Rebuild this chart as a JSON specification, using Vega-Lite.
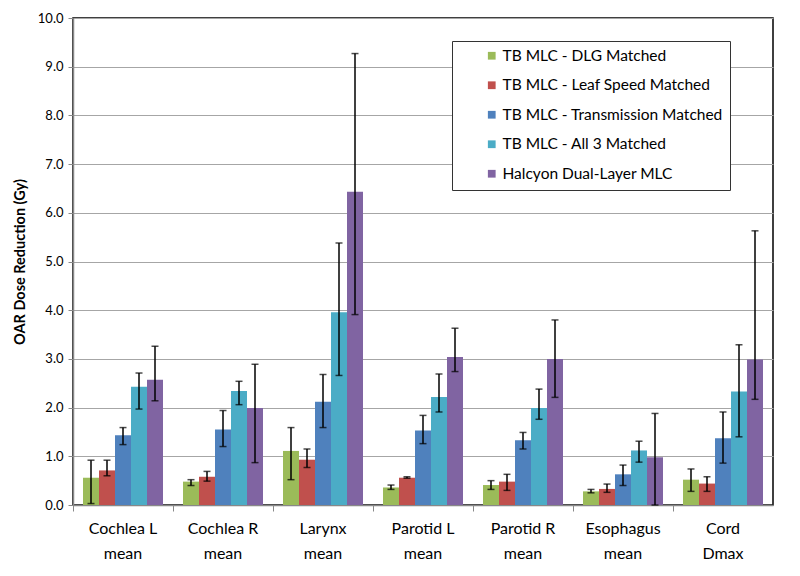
{
  "$schema": "https://vega.github.io/schema/vega-lite/v6.json",
  "width": 700,
  "height": 487,
  "autosize": {"type": "none"},
  "padding": {"left": 73, "top": 18, "right": 27, "bottom": 71},
  "background": "white",
  "config": {
    "font": "Lato",
    "view": {"stroke": "#000000", "strokeWidth": 1.5},
    "axis": {"labelFont": "Lato", "titleFont": "Lato"}
  },
  "data": {
    "values": [
      {"organ": "Cochlea L|mean", "series": "TB MLC - DLG Matched", "value": 0.56, "lo": 0.03, "hi": 0.92},
      {"organ": "Cochlea L|mean", "series": "TB MLC - Leaf Speed Matched", "value": 0.71, "lo": 0.60, "hi": 0.92},
      {"organ": "Cochlea L|mean", "series": "TB MLC - Transmission Matched", "value": 1.43, "lo": 1.24, "hi": 1.59},
      {"organ": "Cochlea L|mean", "series": "TB MLC - All 3 Matched", "value": 2.43, "lo": 1.97, "hi": 2.71},
      {"organ": "Cochlea L|mean", "series": "Halcyon Dual-Layer MLC", "value": 2.57, "lo": 2.14, "hi": 3.26},
      {"organ": "Cochlea R|mean", "series": "TB MLC - DLG Matched", "value": 0.48, "lo": 0.40, "hi": 0.52},
      {"organ": "Cochlea R|mean", "series": "TB MLC - Leaf Speed Matched", "value": 0.58, "lo": 0.49, "hi": 0.69},
      {"organ": "Cochlea R|mean", "series": "TB MLC - Transmission Matched", "value": 1.55, "lo": 1.20, "hi": 1.94},
      {"organ": "Cochlea R|mean", "series": "TB MLC - All 3 Matched", "value": 2.34, "lo": 2.06, "hi": 2.54},
      {"organ": "Cochlea R|mean", "series": "Halcyon Dual-Layer MLC", "value": 1.99, "lo": 0.87, "hi": 2.89},
      {"organ": "Larynx|mean", "series": "TB MLC - DLG Matched", "value": 1.11, "lo": 0.52, "hi": 1.59},
      {"organ": "Larynx|mean", "series": "TB MLC - Leaf Speed Matched", "value": 0.93, "lo": 0.77, "hi": 1.15},
      {"organ": "Larynx|mean", "series": "TB MLC - Transmission Matched", "value": 2.12, "lo": 1.59, "hi": 2.68},
      {"organ": "Larynx|mean", "series": "TB MLC - All 3 Matched", "value": 3.96, "lo": 2.66, "hi": 5.38},
      {"organ": "Larynx|mean", "series": "Halcyon Dual-Layer MLC", "value": 6.43, "lo": 3.91, "hi": 9.27},
      {"organ": "Parotid L|mean", "series": "TB MLC - DLG Matched", "value": 0.36, "lo": 0.32, "hi": 0.41},
      {"organ": "Parotid L|mean", "series": "TB MLC - Leaf Speed Matched", "value": 0.56, "lo": 0.55, "hi": 0.58},
      {"organ": "Parotid L|mean", "series": "TB MLC - Transmission Matched", "value": 1.53, "lo": 1.26, "hi": 1.84},
      {"organ": "Parotid L|mean", "series": "TB MLC - All 3 Matched", "value": 2.22, "lo": 1.91, "hi": 2.69},
      {"organ": "Parotid L|mean", "series": "Halcyon Dual-Layer MLC", "value": 3.04, "lo": 2.74, "hi": 3.63},
      {"organ": "Parotid R|mean", "series": "TB MLC - DLG Matched", "value": 0.41, "lo": 0.32, "hi": 0.50},
      {"organ": "Parotid R|mean", "series": "TB MLC - Leaf Speed Matched", "value": 0.48, "lo": 0.30, "hi": 0.63},
      {"organ": "Parotid R|mean", "series": "TB MLC - Transmission Matched", "value": 1.33, "lo": 1.15, "hi": 1.49},
      {"organ": "Parotid R|mean", "series": "TB MLC - All 3 Matched", "value": 1.99, "lo": 1.76, "hi": 2.38},
      {"organ": "Parotid R|mean", "series": "Halcyon Dual-Layer MLC", "value": 3.00, "lo": 2.21, "hi": 3.80},
      {"organ": "Esophagus|mean", "series": "TB MLC - DLG Matched", "value": 0.28, "lo": 0.25, "hi": 0.32},
      {"organ": "Esophagus|mean", "series": "TB MLC - Leaf Speed Matched", "value": 0.33, "lo": 0.26, "hi": 0.43},
      {"organ": "Esophagus|mean", "series": "TB MLC - Transmission Matched", "value": 0.63, "lo": 0.40, "hi": 0.82},
      {"organ": "Esophagus|mean", "series": "TB MLC - All 3 Matched", "value": 1.12, "lo": 0.88, "hi": 1.31},
      {"organ": "Esophagus|mean", "series": "Halcyon Dual-Layer MLC", "value": 0.98, "lo": 0.0, "hi": 1.88},
      {"organ": "Cord|Dmax", "series": "TB MLC - DLG Matched", "value": 0.52, "lo": 0.28, "hi": 0.74},
      {"organ": "Cord|Dmax", "series": "TB MLC - Leaf Speed Matched", "value": 0.44, "lo": 0.28, "hi": 0.58},
      {"organ": "Cord|Dmax", "series": "TB MLC - Transmission Matched", "value": 1.37, "lo": 0.86, "hi": 1.91},
      {"organ": "Cord|Dmax", "series": "TB MLC - All 3 Matched", "value": 2.33, "lo": 1.40, "hi": 3.29},
      {"organ": "Cord|Dmax", "series": "Halcyon Dual-Layer MLC", "value": 2.99, "lo": 2.17, "hi": 5.63}
    ]
  },
  "encoding": {
    "x": {
      "field": "organ",
      "type": "nominal",
      "sort": null,
      "scale": {"paddingInner": 0, "paddingOuter": 0},
      "axis": {
        "title": null,
        "labelAngle": 0,
        "labelExpr": "split(datum.label, '|')",
        "labelFontSize": 16,
        "labelColor": "#000000",
        "labelPadding": 9,
        "labelLineHeight": 25,
        "bandPosition": 0,
        "domainColor": "#888888",
        "domainWidth": 1.5,
        "tickColor": "#888888",
        "tickSize": 6,
        "ticks": true,
        "grid": false
      }
    },
    "xOffset": {
      "field": "series",
      "type": "nominal",
      "sort": null,
      "scale": {"paddingInner": 0, "paddingOuter": 0.625}
    }
  },
  "layer": [
    {
      "mark": {"type": "bar"},
      "encoding": {
        "y": {
          "field": "value",
          "type": "quantitative",
          "scale": {"domain": [0, 10], "nice": false},
          "axis": {
            "title": "OAR Dose Reduction  (Gy)",
            "titleFontSize": 14.5,
            "titleFontWeight": "bold",
            "titleColor": "#000000",
            "titlePadding": 10,
            "format": ".1f",
            "values": [0, 1, 2, 3, 4, 5, 6, 7, 8, 9, 10],
            "labelFontSize": 13,
            "labelColor": "#000000",
            "labelPadding": 5,
            "tickSize": 5,
            "tickColor": "#888888",
            "domainColor": "#888888",
            "domainWidth": 1.5,
            "grid": true,
            "gridColor": "#A6A6A6",
            "gridWidth": 1.2
          }
        },
        "color": {
          "field": "series",
          "type": "nominal",
          "sort": null,
          "scale": {
            "domain": ["TB MLC - DLG Matched", "TB MLC - Leaf Speed Matched", "TB MLC - Transmission Matched", "TB MLC - All 3 Matched", "Halcyon Dual-Layer MLC"],
            "range": ["#9BBB59", "#C0504D", "#4F81BD", "#4BACC6", "#8064A2"]
          },
          "legend": {
            "title": " ",
            "titleOrient": "right",
            "titlePadding": 0,
            "orient": "none",
            "legendX": 379,
            "legendY": 23,
            "direction": "vertical",
            "symbolType": "square",
            "symbolSize": 60,
            "symbolStrokeWidth": 0,
            "symbolOffset": 25,
            "labelFontSize": 15.5,
            "labelColor": "#000000",
            "labelOffset": 3,
            "rowPadding": 12.5,
            "padding": 7,
            "strokeColor": "#333333",
            "fillColor": "white",
            "offset": 0,
            "labelLimit": 300
          }
        }
      }
    },
    {
      "mark": {"type": "rule", "color": "#000000", "strokeWidth": 1.5},
      "encoding": {
        "y": {"field": "lo", "type": "quantitative"},
        "y2": {"field": "hi"}
      }
    },
    {
      "mark": {"type": "tick", "color": "#000000", "thickness": 1.5, "size": 7},
      "encoding": {
        "y": {"field": "lo", "type": "quantitative"}
      }
    },
    {
      "mark": {"type": "tick", "color": "#000000", "thickness": 1.5, "size": 7},
      "encoding": {
        "y": {"field": "hi", "type": "quantitative"}
      }
    }
  ]
}
